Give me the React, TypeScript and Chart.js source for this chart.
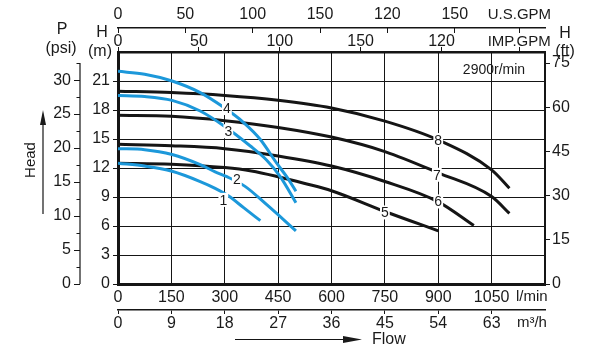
import React, { useEffect, useRef } from 'react';
import { Chart, registerables } from 'chart.js';

Chart.register(...registerables);

// ---------- data (flow in l/min, head in m) ----------
const pump1Flow = [0, 75, 152, 231, 273, 311, 353, 400];
const pump1Head = [12.5, 12.2, 11.66, 10.6, 9.9, 9.1, 7.9, 6.55];
const pump2Flow = [0, 75, 152, 231, 273, 306, 357, 418, 500];
const pump2Head = [14.0, 13.9, 13.4, 12.35, 11.6, 11.1, 10.1, 8.2, 5.5];
const pump3Flow = [0, 75, 152, 231, 300, 371, 418, 456, 500];
const pump3Head = [19.5, 19.4, 19.0, 17.9, 16.3, 14.3, 12.8, 11.1, 8.4];
const pump4Flow = [0, 75, 152, 231, 296, 353, 400, 446, 474, 500];
const pump4Head = [22.0, 21.7, 21.0, 19.8, 18.3, 16.7, 14.95, 12.5, 11.1, 9.6];
const pump5Flow = [0, 150, 300, 375, 450, 525, 600, 750, 900];
const pump5Head = [12.5, 12.4, 12.05, 11.7, 11.1, 10.4, 9.65, 7.5, 5.5];
const pump6Flow = [0, 150, 300, 450, 600, 750, 900, 1000];
const pump6Head = [14.45, 14.3, 14.0, 13.25, 12.2, 10.6, 8.5, 6.05];
const pump7Flow = [0, 150, 300, 450, 600, 750, 900, 1050, 1100];
const pump7Head = [17.45, 17.35, 16.9, 16.2, 15.2, 13.7, 11.5, 9.05, 7.3];
const pump8Flow = [0, 150, 300, 450, 600, 750, 900, 1050, 1100];
const pump8Head = [19.95, 19.8, 19.5, 19.0, 18.2, 16.85, 14.9, 11.8, 9.9];

const curveNames = ['1', '2', '3', '4', '5', '6', '7', '8'];
const labelFlow = [296, 334, 310, 306, 750, 900, 896, 900];
const labelHead = [8.7, 10.8, 15.8, 18.2, 7.4, 8.54, 11.3, 14.9];

// ---------- axes ----------
const flowTicks = [0, 150, 300, 450, 600, 750, 900, 1050, 1163];
const flowLabels = ['0', '150', '300', '450', '600', '750', '900', '1050', 'l/min'];
const m3hTicks = [0, 9, 18, 27, 36, 45, 54, 63, 69.8];
const m3hLabels = ['0', '9', '18', '27', '36', '45', '54', '63', 'm³/h'];
const usTicks = [0, 50, 100, 150, 200, 250, 298];
const usLabels = ['0', '50', '100', '150', '120', '150', 'U.S.GPM'];
const impTicks = [0, 50, 100, 150, 200, 248];
const impLabels = ['0', '50', '100', '150', '120', 'IMP.GPM'];
const headTicks = [0, 3, 6, 9, 12, 15, 18, 21];
const headLabels = ['0', '3', '6', '9', '12', '15', '18', '21'];
const psiTicks = [0, 5, 10, 15, 20, 25, 30];
const psiLabels = ['0', '5', '10', '15', '20', '25', '30'];
const psiMinor = [2.5, 7.5, 12.5, 17.5, 22.5, 27.5, 32.5];
const ftTicks = [0, 15, 30, 45, 60, 75];
const ftLabels = ['0', '15', '30', '45', '60', '75'];

const FLOW_MAX = 1200;
const HEAD_MAX = 24;
const LPM_PER_USGPM = 3.78541;
const LPM_PER_IMPGPM = 4.54609;
const PSI_PER_M = 1.42233;
const FT_PER_M = 3.28084;

const BLUE = '#1c98da';
const BLACK = '#151515';
const FONT = 'Liberation Sans, Arial, sans-serif';
const INK = '#1a1a1a';

const tickFont = (units: string[]) => (ctx: any) => {
  const isUnit = ctx && ctx.index === units.length - 1;
  return { family: FONT, size: isUnit ? 15 : 16 };
};

function mk(flow: number[], head: number[], color: string) {
  return {
    data: flow.map((f, i) => ({ x: f, y: head[i] })),
    borderColor: color,
    borderWidth: 3,
    pointRadius: 0,
    fill: false,
    cubicInterpolationMode: 'monotone' as const,
    xAxisID: 'x',
    yAxisID: 'y',
  };
}

const extras = {
  id: 'extras',
  afterDatasetsDraw(chart: any) {
    const { ctx } = chart;
    const xs = chart.scales.x;
    const ys = chart.scales.y;
    ctx.save();
    ctx.font = `14px ${FONT}`;
    ctx.textAlign = 'center';
    ctx.textBaseline = 'middle';
    curveNames.forEach((n, i) => {
      const px = xs.getPixelForValue(labelFlow[i]);
      const py = ys.getPixelForValue(labelHead[i]);
      const w = ctx.measureText(n).width + 2;
      ctx.fillStyle = '#fff';
      ctx.fillRect(px - w / 2, py - 7, w, 14);
      ctx.fillStyle = INK;
      ctx.fillText(n, px, py + 1);
    });
    ctx.restore();
  },
  afterDraw(chart: any) {
    const { ctx, chartArea } = chart;
    const psi = chart.scales.yPsi;
    ctx.save();
    // psi axis line + minor ticks
    const ax = psi.right;
    ctx.strokeStyle = BLACK;
    ctx.lineWidth = 1.2;
    ctx.beginPath();
    ctx.moveTo(ax, psi.getPixelForValue(0));
    ctx.lineTo(ax, psi.getPixelForValue(32.5));
    ctx.stroke();
    ctx.lineWidth = 1;
    psiMinor.forEach((v) => {
      const py = Math.round(psi.getPixelForValue(v)) + 0.5;
      ctx.beginPath();
      ctx.moveTo(ax - 3.5, py);
      ctx.lineTo(ax, py);
      ctx.stroke();
    });

    ctx.fillStyle = INK;
    ctx.textAlign = 'center';
    ctx.textBaseline = 'middle';
    ctx.font = `16px ${FONT}`;
    ctx.fillText('P', 62, 30);
    ctx.fillText('(psi)', 61, 49);
    ctx.fillText('H', 102, 33);
    ctx.fillText('(m)', 100, 52);
    ctx.fillText('H', 565, 34);
    ctx.fillText('(ft)', 565, 52);

    ctx.font = `14px ${FONT}`;
    ctx.fillText('2900r/min', chartArea.right - 51, chartArea.top + 18);

    // Head label with arrow
    ctx.save();
    ctx.translate(31, 160);
    ctx.rotate(-Math.PI / 2);
    ctx.font = `15px ${FONT}`;
    ctx.fillText('Head', 0, 0);
    ctx.restore();
    ctx.lineWidth = 1.2;
    ctx.beginPath();
    ctx.moveTo(43, 214);
    ctx.lineTo(43, 122);
    ctx.stroke();
    ctx.beginPath();
    ctx.moveTo(43, 110);
    ctx.lineTo(40, 125);
    ctx.lineTo(46, 125);
    ctx.closePath();
    ctx.fill();

    // Flow label with arrow
    ctx.beginPath();
    ctx.moveTo(235, 339.5);
    ctx.lineTo(346, 339.5);
    ctx.stroke();
    ctx.beginPath();
    ctx.moveTo(362, 339.5);
    ctx.lineTo(343, 336);
    ctx.lineTo(343, 343);
    ctx.closePath();
    ctx.fill();
    ctx.textAlign = 'left';
    ctx.font = `16px ${FONT}`;
    ctx.fillText('Flow', 372, 340);
    ctx.restore();
  },
};

export default function App() {
  const ref = useRef<HTMLCanvasElement | null>(null);

  useEffect(() => {
    const canvas = ref.current;
    if (!canvas) return;
    const chart = new Chart(canvas, {
      type: 'line',
      data: {
        datasets: [
          mk(pump1Flow, pump1Head, BLUE),
          mk(pump2Flow, pump2Head, BLUE),
          mk(pump3Flow, pump3Head, BLUE),
          mk(pump4Flow, pump4Head, BLUE),
          mk(pump5Flow, pump5Head, BLACK),
          mk(pump6Flow, pump6Head, BLACK),
          mk(pump7Flow, pump7Head, BLACK),
          mk(pump8Flow, pump8Head, BLACK),
        ],
      },
      options: {
        responsive: false,
        animation: false,
        events: [],
        layout: { padding: 0 },
        plugins: {
          legend: { display: false },
          tooltip: { enabled: false },
          title: { display: false },
        },
        scales: {
          x: {
            type: 'linear',
            position: 'bottom',
            weight: 0,
            min: 0,
            max: FLOW_MAX,
            afterBuildTicks: (s: any) => {
              s.ticks = flowTicks.map((v) => ({ value: v }));
            },
            afterFit: (s: any) => {
              s.height = 26;
            },
            ticks: {
              autoSkip: false,
              maxRotation: 0,
              padding: 4,
              color: INK,
              font: tickFont(flowLabels),
              callback: (_v: any, i: number) => flowLabels[i],
            },
            grid: {
              drawTicks: false,
              lineWidth: 1,
              color: (c: any) =>
                c.tick && (c.tick.value === 0 || c.tick.value > 1100) ? 'rgba(0,0,0,0)' : BLACK,
            },
            border: { display: true, color: BLACK, width: 3 },
          },
          x2: {
            type: 'linear',
            position: 'bottom',
            weight: 1,
            min: 0,
            max: FLOW_MAX * 0.06,
            afterBuildTicks: (s: any) => {
              s.ticks = m3hTicks.map((v) => ({ value: v }));
            },
            afterFit: (s: any) => {
              s.height = 49;
            },
            ticks: {
              autoSkip: false,
              maxRotation: 0,
              padding: 0,
              color: INK,
              font: tickFont(m3hLabels),
              callback: (_v: any, i: number) => m3hLabels[i],
            },
            grid: {
              drawOnChartArea: false,
              tickLength: 4,
              color: (c: any) => (c.tick && c.tick.value > 65 ? 'rgba(0,0,0,0)' : BLACK),
            },
            border: { display: true, color: BLACK, width: 1.5 },
          },
          ximp: {
            type: 'linear',
            position: 'top',
            weight: 0,
            min: 0,
            max: FLOW_MAX / LPM_PER_IMPGPM,
            afterBuildTicks: (s: any) => {
              s.ticks = impTicks.map((v) => ({ value: v }));
            },
            afterFit: (s: any) => {
              s.height = 24;
            },
            ticks: {
              autoSkip: false,
              maxRotation: 0,
              padding: -4,
              color: INK,
              font: tickFont(impLabels),
              callback: (_v: any, i: number) => impLabels[i],
            },
            grid: { drawOnChartArea: false, tickLength: 5, color: BLACK },
            border: { display: true, color: BLACK, width: 2.5 },
          },
          xus: {
            type: 'linear',
            position: 'top',
            weight: 1,
            min: 0,
            max: FLOW_MAX / LPM_PER_USGPM,
            afterBuildTicks: (s: any) => {
              s.ticks = usTicks.map((v) => ({ value: v }));
            },
            afterFit: (s: any) => {
              s.height = 28;
            },
            ticks: {
              autoSkip: false,
              maxRotation: 0,
              padding: 9,
              color: INK,
              font: tickFont(usLabels),
              callback: (_v: any, i: number) => usLabels[i],
            },
            grid: { drawOnChartArea: false, tickLength: -5, color: BLACK },
            border: { display: true, color: BLACK, width: 1.5 },
          },
          y: {
            type: 'linear',
            position: 'left',
            weight: 0,
            min: 0,
            max: HEAD_MAX,
            afterBuildTicks: (s: any) => {
              s.ticks = headTicks.map((v) => ({ value: v }));
            },
            afterFit: (s: any) => {
              s.width = 38;
            },
            ticks: {
              padding: 3,
              color: INK,
              font: { family: FONT, size: 16 },
              callback: (_v: any, i: number) => headLabels[i],
            },
            grid: { color: BLACK, tickColor: BLACK, tickLength: 5, lineWidth: 1 },
            border: { display: true, color: BLACK, width: 3 },
          },
          yPsi: {
            type: 'linear',
            position: 'left',
            weight: 1,
            min: 0,
            max: HEAD_MAX * PSI_PER_M,
            afterBuildTicks: (s: any) => {
              s.ticks = psiTicks.map((v) => ({ value: v }));
            },
            afterFit: (s: any) => {
              s.width = 80;
            },
            ticks: {
              padding: 3,
              color: INK,
              font: { family: FONT, size: 16 },
              callback: (_v: any, i: number) => psiLabels[i],
            },
            grid: { drawOnChartArea: false, tickLength: 6, color: BLACK },
            border: { display: false },
          },
          yFt: {
            type: 'linear',
            position: 'right',
            weight: 0,
            min: 0,
            max: HEAD_MAX * FT_PER_M,
            afterBuildTicks: (s: any) => {
              s.ticks = ftTicks.map((v) => ({ value: v }));
            },
            afterFit: (s: any) => {
              s.width = 46;
            },
            ticks: {
              padding: 2,
              color: INK,
              font: { family: FONT, size: 16 },
              callback: (_v: any, i: number) => ftLabels[i],
            },
            grid: { drawOnChartArea: false, tickLength: 5, color: BLACK },
            border: { display: true, color: BLACK, width: 2 },
          },
        },
      } as any,
      plugins: [extras],
    });
    return () => chart.destroy();
  }, []);

  return (
    <div style={{ position: 'fixed', left: 0, top: 0, width: 591, height: 359, background: '#fff' }}>
      <canvas ref={ref} width={591} height={359} style={{ display: 'block' }} />
    </div>
  );
}
